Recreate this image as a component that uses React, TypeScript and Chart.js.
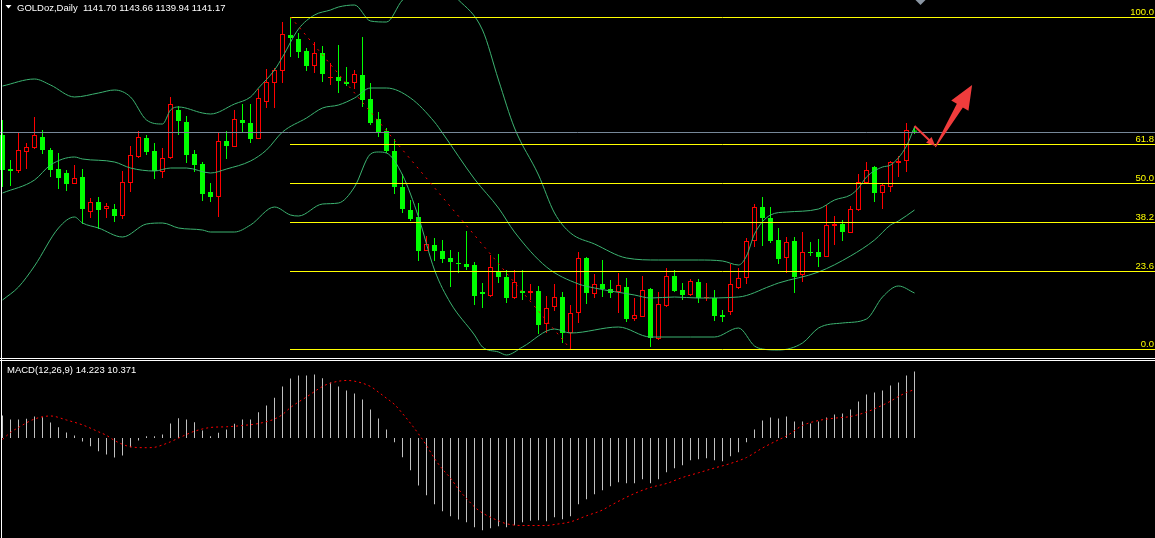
import React, { useEffect, useRef } from "react";
import { Chart, registerables } from "chart.js";

Chart.register(...registerables);

// ---------------- data ----------------
const symbolLabel = "GOLDoz,Daily";
const macdLabel = "MACD(12,26,9)";

const opens = [
  1139.5, 1122.5, 1121.5, 1131.0, 1133.0, 1138.5, 1132.0, 1122.5, 1120.5, 1115.0,
  1118.5, 1101.0, 1106.0, 1102.5, 1102.5, 1099.0, 1115.5, 1128.5, 1138.0, 1131.5,
  1121.0, 1128.0, 1152.0, 1146.0, 1130.0, 1125.0, 1111.0, 1108.5, 1136.5, 1133.5,
  1147.0, 1145.5, 1137.5, 1156.0, 1165.5, 1171.5, 1189.5, 1187.5, 1181.5, 1174.0,
  1180.5, 1168.0, 1168.5, 1166.0, 1165.5, 1169.5, 1157.5, 1147.5, 1141.5, 1131.5,
  1113.5, 1102.0, 1098.5, 1081.5, 1084.5, 1081.5, 1078.0, 1075.5, 1075.0, 1074.5,
  1061.0, 1059.0, 1071.5, 1068.5, 1058.0, 1061.5, 1060.5, 1061.5, 1045.0, 1053.5,
  1058.5, 1040.5, 1050.5, 1078.0, 1060.0, 1065.0, 1062.5, 1061.0, 1063.5, 1047.5,
  1048.5, 1062.5, 1037.5, 1054.0, 1069.0, 1062.0, 1059.5, 1066.0, 1058.0, 1058.0,
  1049.5, 1051.0, 1063.0, 1068.0, 1086.5, 1103.5, 1098.0, 1087.0, 1078.0, 1086.5,
  1069.5, 1081.0, 1081.0, 1078.5, 1094.0, 1095.0, 1090.5, 1102.0, 1115.5, 1123.5,
  1110.5, 1113.5, 1125.5, 1126.5, 1141.7,
];
const highs = [
  1147.0, 1127.0, 1140.5, 1135.5, 1148.5, 1142.0, 1133.0, 1130.5, 1122.0, 1124.5,
  1122.5, 1108.0, 1108.5, 1105.5, 1105.0, 1121.5, 1134.0, 1141.5, 1139.5, 1135.5,
  1133.0, 1158.5, 1154.0, 1149.0, 1132.0, 1126.0, 1115.5, 1141.0, 1141.5, 1152.0,
  1155.0, 1155.0, 1162.5, 1172.5, 1173.0, 1196.0, 1198.5, 1190.5, 1183.0, 1186.0,
  1184.0, 1175.5, 1184.5, 1173.5, 1172.0, 1188.5, 1165.5, 1151.0, 1143.0, 1137.5,
  1120.0, 1107.0, 1105.5, 1089.0, 1088.0, 1087.0, 1082.0, 1081.0, 1091.5, 1076.0,
  1065.5, 1079.5, 1080.0, 1072.0, 1072.0, 1072.0, 1065.0, 1064.0, 1059.0, 1065.0,
  1061.0, 1054.5, 1081.0, 1078.5, 1070.0, 1077.0, 1067.0, 1070.5, 1068.0, 1058.0,
  1069.0, 1063.0, 1061.0, 1073.0, 1072.0, 1065.5, 1067.5, 1067.5, 1065.5, 1062.0,
  1052.0, 1075.0, 1073.0, 1088.0, 1105.0, 1108.5, 1103.5, 1093.0, 1088.5, 1088.5,
  1091.0, 1086.0, 1087.5, 1104.5, 1099.0, 1097.0, 1104.0, 1120.0, 1126.0, 1124.0,
  1115.5, 1126.5, 1129.0, 1145.5, 1143.66,
];
const lows = [
  1113.5, 1114.0, 1120.5, 1122.5, 1132.5, 1130.0, 1118.5, 1112.5, 1111.5, 1115.0,
  1095.0, 1098.0, 1092.5, 1098.0, 1096.0, 1097.5, 1111.0, 1128.0, 1129.5, 1117.5,
  1118.0, 1127.5, 1139.5, 1125.5, 1121.0, 1106.5, 1106.0, 1098.5, 1127.5, 1133.5,
  1141.0, 1135.5, 1137.5, 1153.0, 1153.0, 1165.5, 1178.5, 1178.0, 1171.5, 1170.5,
  1166.0, 1164.5, 1160.5, 1164.0, 1162.5, 1153.5, 1144.5, 1138.5, 1130.5, 1110.0,
  1100.5, 1096.5, 1076.5, 1081.5, 1076.5, 1075.5, 1063.5, 1070.5, 1072.0, 1054.5,
  1053.0, 1058.5, 1065.5, 1055.5, 1057.5, 1057.0, 1057.0, 1040.0, 1040.5, 1051.5,
  1035.5, 1032.5, 1045.5, 1055.0, 1058.0, 1058.5, 1058.0, 1050.5, 1046.0, 1046.5,
  1048.5, 1033.5, 1037.0, 1053.5, 1061.0, 1057.0, 1059.0, 1055.5, 1056.5, 1046.5,
  1046.0, 1049.5, 1062.5, 1065.0, 1083.5, 1084.0, 1085.5, 1075.0, 1070.5, 1060.5,
  1066.0, 1079.0, 1073.5, 1078.5, 1084.5, 1086.5, 1090.5, 1101.5, 1115.5, 1106.0,
  1102.5, 1111.0, 1118.5, 1121.0, 1139.94,
];
const closes = [
  1122.0, 1121.5, 1132.0, 1133.5, 1139.5, 1132.0, 1122.0, 1118.0, 1115.0, 1118.0,
  1102.5, 1106.0, 1102.0, 1104.0, 1099.0, 1116.0, 1129.5, 1138.5, 1131.0, 1121.5,
  1128.0, 1155.0, 1146.5, 1129.5, 1124.5, 1110.0, 1108.5, 1136.5, 1134.0, 1147.5,
  1145.5, 1137.5, 1158.0, 1166.0, 1172.0, 1190.0, 1188.0, 1181.0, 1174.0, 1180.5,
  1170.0, 1168.5, 1166.5, 1165.0, 1170.0, 1157.0, 1145.5, 1141.0, 1131.5, 1113.5,
  1102.5, 1097.5, 1081.5, 1085.0, 1081.5, 1077.5, 1076.0, 1075.0, 1073.5, 1059.0,
  1060.0, 1073.5, 1068.5, 1058.0, 1066.0, 1060.5, 1061.5, 1044.5, 1053.0, 1058.5,
  1040.5, 1050.5, 1078.0, 1060.5, 1065.0, 1062.5, 1060.5, 1064.5, 1047.5, 1049.5,
  1062.0, 1038.0, 1055.0, 1069.0, 1061.5, 1059.5, 1066.5, 1058.0, 1058.5, 1049.0,
  1048.5, 1065.0, 1068.0, 1086.5, 1103.5, 1098.0, 1086.5, 1077.5, 1086.0, 1068.5,
  1081.0, 1080.5, 1078.5, 1094.5, 1095.0, 1091.0, 1102.5, 1116.0, 1122.0, 1110.5,
  1114.5, 1126.0, 1126.5, 1142.0, 1141.17,
];

// Bollinger bands, read as [bar index, price]
const upperBand = [
  [0, 1164.0], [4, 1167.5], [6, 1164.5], [9, 1158.5], [12, 1160.5], [14, 1162.0], [16, 1158.5],
  [18, 1147.0], [20, 1145.0], [21, 1152.0], [22, 1153.5], [25, 1150.5], [26, 1150.0], [29, 1155.0],
  [31, 1158.5], [32, 1163.0], [34, 1172.0], [35, 1178.5], [37, 1192.5], [39, 1199.5], [41, 1202.0],
  [42, 1203.5], [44, 1204.5], [46, 1196.5], [48, 1196.0], [50, 1207.0], [53, 1214.0], [55, 1213.0],
  [57, 1207.0], [60, 1192.0], [62, 1167.0], [64, 1143.0], [67, 1119.5], [69, 1100.5], [71, 1090.5],
  [74, 1085.0], [78, 1078.0], [82, 1077.0], [87, 1077.0], [90, 1076.5], [92, 1074.5], [93, 1079.0],
  [94, 1090.0], [96, 1099.5], [98, 1101.0], [102, 1102.5], [104, 1107.0], [106, 1109.5], [107, 1113.0],
  [108, 1118.5], [110, 1123.5], [111, 1124.5], [113, 1134.0], [114, 1143.5],
];
const middleBand = [
  [0, 1110.5], [4, 1117.0], [6, 1124.5], [9, 1128.5], [10, 1127.5], [14, 1126.0], [16, 1123.0],
  [19, 1121.5], [21, 1123.0], [23, 1123.0], [26, 1120.5], [28, 1122.5], [31, 1126.5], [33, 1132.0],
  [35, 1141.0], [38, 1148.0], [40, 1153.0], [42, 1154.5], [44, 1158.0], [46, 1163.0], [48, 1163.0],
  [51, 1158.0], [54, 1146.0], [55, 1140.5], [59, 1117.5], [62, 1103.0], [64, 1091.0], [68, 1073.5],
  [72, 1065.0], [74, 1063.0], [79, 1059.5], [81, 1058.0], [84, 1058.5], [87, 1058.0], [92, 1058.5],
  [96, 1064.0], [97, 1065.5], [102, 1071.0], [106, 1079.0], [109, 1087.0], [111, 1094.5], [112, 1096.5],
  [114, 1102.0],
];
const lowerBand = [
  [0, 1057.0], [2, 1063.5], [4, 1074.0], [7, 1093.0], [9, 1098.5], [10, 1095.5], [12, 1093.0],
  [15, 1088.5], [18, 1095.0], [20, 1095.5], [22, 1093.0], [25, 1092.0], [26, 1091.0], [29, 1091.0],
  [31, 1094.5], [34, 1103.5], [36, 1099.5], [37, 1099.0], [40, 1105.0], [42, 1105.5], [44, 1113.5],
  [46, 1130.0], [47, 1131.0], [48, 1130.5], [50, 1119.5], [52, 1098.5], [54, 1072.0], [56, 1055.5],
  [59, 1039.5], [60, 1033.5], [62, 1031.0], [63, 1029.5], [65, 1033.5], [69, 1042.5], [71, 1040.5],
  [77, 1043.5], [81, 1038.5], [86, 1038.5], [89, 1038.5], [92, 1043.0], [94, 1034.0], [95, 1032.5],
  [97, 1032.0], [100, 1035.5], [102, 1043.0], [105, 1045.5], [108, 1047.5], [110, 1058.5], [112, 1064.0],
  [114, 1060.5],
];

const macdHist = [
  4.81, 3.96, 3.96, 4.11, 4.6, 4.45, 3.32, 2.31, 1.18, 0.53,
  -0.75, -1.75, -2.82, -3.53, -4.17, -3.74, -1.97, -0.53, 0.39, 0.39,
  0.75, 3.1, 4.24, 3.96, 3.38, 1.6, 0.39, 1.11, 1.82, 3.04,
  3.96, 3.96, 5.52, 6.95, 8.6, 11.02, 12.73, 13.37, 13.37, 13.58,
  12.79, 11.87, 11.02, 10.16, 9.52, 8.24, 6.1, 4.17, 1.82, -0.9,
  -4.11, -6.89, -10.16, -12.24, -14.16, -15.66, -16.73, -17.43, -18.01, -19.08,
  -19.72, -19.29, -18.87, -19.08, -18.65, -18.01, -17.71, -17.58, -17.8, -16.94,
  -17.37, -16.73, -14.16, -13.09, -12.02, -11.17, -10.31, -9.45, -9.67, -9.67,
  -8.81, -9.67, -8.81, -7.32, -6.46, -5.82, -4.75, -4.53, -4.32, -4.75,
  -4.96, -3.89, -3.04, -0.9, 1.82, 3.74, 4.38, 4.17, 4.6, 3.53,
  3.53, 3.1, 3.53, 4.38, 5.03, 5.24, 6.1, 7.81, 9.3, 9.73,
  10.16, 11.23, 11.87, 13.37, 14.223,
];
const macdSignal = [
  [0, -0.32], [1, 1.18], [2, 2.25], [4, 4.06], [6, 4.71], [8, 3.85], [10, 2.8], [12, 1.33], [13, 0.56],
  [14, -0.53], [15, -1.35], [16, -1.88], [18, -2.07], [19, -1.99], [20, -1.48], [21, -0.81], [22, -0.02],
  [23, 0.75], [24, 1.45], [26, 2.25], [28, 2.4], [30, 2.67], [32, 3.1], [34, 4.06], [35, 5.03], [36, 6.52],
  [37, 7.7], [38, 8.77], [40, 11.02], [41, 11.74], [43, 12.3], [44, 12.15], [46, 11.02], [47, 9.8],
  [48, 8.51], [49, 7.17], [50, 5.24], [51, 3.14], [52, 0.88], [53, -1.6], [54, -4.39], [55, -6.67],
  [56, -8.58], [57, -10.97], [58, -12.94], [59, -14.74], [60, -16.04], [62, -17.71], [63, -18.34],
  [65, -18.72], [68, -18.72], [69, -18.5], [71, -17.93], [73, -16.64], [75, -15.4], [76, -14.44],
  [79, -11.87], [81, -10.59], [83, -9.73], [85, -8.45], [87, -7.44], [89, -6.42], [91, -5.45],
  [93, -4.17], [95, -2.14], [97, -0.39], [98, 0.43], [100, 2.67], [102, 3.74], [104, 4.24], [106, 4.6],
  [108, 5.56], [110, 7.02], [111, 7.87], [112, 8.88], [113, 9.73], [114, 10.371],
];

const fibLevels = [0, 23.6, 38.2, 50, 61.8, 100];
const fibHighIndex = 36;
const fibLowIndex = 71;

// annotation arrows in [bar index, price]
const arrowThin = [[114, 1144], [116.6, 1134]];
const arrowBold = [[116.6, 1133.5], [121.2, 1164.5]];
const shiftMarkerIndex = 114.75;

// ---------------- config ----------------
const X_RANGE = { min: -0.3125, max: 144.0625 };
const PRICE_RANGE = { min: 1028, max: 1207 };
const MACD_RANGE = { min: -21.39, max: 16.47 };

const BULL = "#ff0000";
const BEAR = "#00ff00";
const BAND = "#3cb371";
const FIB = "#ffff00";
const BID = "#778899";
const HIST = "#c0c0c0";
const SIGNAL = "#ff0000";
const ARROW = "#f03c3c";
const TEXT = "#ffffff";
const FONT = '9.5px "Liberation Sans", Arial, sans-serif';

function fillArrowHead(ctx: any, x0: number, y0: number, x1: number, y1: number, len: number, half: number) {
  const dx = x1 - x0, dy = y1 - y0;
  const L = Math.hypot(dx, dy);
  const ux = dx / L, uy = dy / L;
  const nx = -uy, ny = ux;
  const bx = x1 - ux * len, by = y1 - uy * len;
  ctx.beginPath();
  ctx.moveTo(x1, y1);
  ctx.lineTo(bx + nx * half, by + ny * half);
  ctx.lineTo(bx - nx * half, by - ny * half);
  ctx.closePath();
  ctx.fill();
}

const mainOverlay = {
  id: "mainOverlay",
  afterDatasetsDraw(chart: any) {
    const { ctx, chartArea } = chart;
    const xs = chart.scales.x, ys = chart.scales.y;
    const row = (v: number) => Math.round(ys.getPixelForValue(v)) + 0.5;
    ctx.save();
    ctx.beginPath();
    ctx.rect(chartArea.left, chartArea.top, chartArea.right - chartArea.left, chartArea.bottom - chartArea.top);
    ctx.clip();
    ctx.lineWidth = 1;

    // bid line
    const bidY = row(closes[closes.length - 1]);
    ctx.strokeStyle = BID;
    ctx.beginPath();
    ctx.moveTo(chartArea.left, bidY);
    ctx.lineTo(chartArea.right, bidY);
    ctx.stroke();

    // fibonacci
    const hi = highs[fibHighIndex];
    const lo = lows[fibLowIndex];
    const fx = Math.floor(xs.getPixelForValue(fibHighIndex));
    ctx.font = FONT;
    ctx.textAlign = "right";
    ctx.textBaseline = "alphabetic";
    fibLevels.forEach((l) => {
      const y = row(lo + ((hi - lo) * l) / 100);
      ctx.strokeStyle = FIB;
      ctx.beginPath();
      ctx.moveTo(fx, y);
      ctx.lineTo(chartArea.right, y);
      ctx.stroke();
      ctx.fillStyle = FIB;
      ctx.fillText(l.toFixed(1), chartArea.right - 1, y - 2.5);
    });

    // fibonacci trend line (dotted)
    ctx.setLineDash([2, 5]);
    ctx.strokeStyle = "#ff0000";
    ctx.beginPath();
    ctx.moveTo(xs.getPixelForValue(fibHighIndex), ys.getPixelForValue(hi));
    ctx.lineTo(xs.getPixelForValue(fibLowIndex), ys.getPixelForValue(lo));
    ctx.stroke();
    ctx.setLineDash([]);

    // thin arrow
    const t0x = xs.getPixelForValue(arrowThin[0][0]), t0y = ys.getPixelForValue(arrowThin[0][1]);
    const t1x = xs.getPixelForValue(arrowThin[1][0]), t1y = ys.getPixelForValue(arrowThin[1][1]);
    ctx.strokeStyle = ARROW;
    ctx.fillStyle = ARROW;
    ctx.lineWidth = 2;
    ctx.beginPath();
    ctx.moveTo(t0x, t0y);
    ctx.lineTo(t1x - (t1x - t0x) * 0.25, t1y - (t1y - t0y) * 0.25);
    ctx.stroke();
    fillArrowHead(ctx, t0x, t0y, t1x, t1y, 9, 4);

    // bold arrow
    const b0x = xs.getPixelForValue(arrowBold[0][0]), b0y = ys.getPixelForValue(arrowBold[0][1]);
    const b1x = xs.getPixelForValue(arrowBold[1][0]), b1y = ys.getPixelForValue(arrowBold[1][1]);
    const dx = b1x - b0x, dy = b1y - b0y;
    const L = Math.hypot(dx, dy);
    const ux = dx / L, uy = dy / L, nx = -uy, ny = ux;
    const headLen = 24, headHalf = 10, shaftHalf = 3.5, tailHalf = 0.6;
    const bx = b1x - ux * headLen, by = b1y - uy * headLen;
    ctx.beginPath();
    ctx.moveTo(b0x + nx * tailHalf, b0y + ny * tailHalf);
    ctx.lineTo(bx + nx * shaftHalf, by + ny * shaftHalf);
    ctx.lineTo(bx + nx * headHalf, by + ny * headHalf);
    ctx.lineTo(b1x, b1y);
    ctx.lineTo(bx - nx * headHalf, by - ny * headHalf);
    ctx.lineTo(bx - nx * shaftHalf, by - ny * shaftHalf);
    ctx.lineTo(b0x - nx * tailHalf, b0y - ny * tailHalf);
    ctx.closePath();
    ctx.fill();
    ctx.restore();
  },
  afterDraw(chart: any) {
    const { ctx, chartArea } = chart;
    const xs = chart.scales.x;
    ctx.save();
    // panel frame
    ctx.fillStyle = "#ffffff";
    ctx.fillRect(1, 0, 1, chart.height);
    ctx.fillRect(0, chartArea.bottom, chart.width, 1);
    ctx.fillRect(0, chartArea.bottom + 2, chart.width, 1);
    // chart shift marker
    const sx = xs.getPixelForValue(shiftMarkerIndex);
    ctx.fillStyle = "#8a96a3";
    ctx.beginPath();
    ctx.moveTo(sx - 5, 0);
    ctx.lineTo(sx + 5, 0);
    ctx.lineTo(sx, 5);
    ctx.closePath();
    ctx.fill();
    // header
    ctx.fillStyle = TEXT;
    ctx.beginPath();
    ctx.moveTo(5.5, 5);
    ctx.lineTo(11.5, 5);
    ctx.lineTo(8.5, 8.5);
    ctx.closePath();
    ctx.fill();
    ctx.font = FONT;
    ctx.textAlign = "left";
    ctx.textBaseline = "alphabetic";
    ctx.fillText(symbolLabel, 17, 11);
    const n = closes.length - 1;
    const ohlc = [opens[n], highs[n], lows[n], closes[n]].map((v) => v.toFixed(2)).join(" ");
    ctx.fillText(ohlc, 83, 11);
    ctx.restore();
  },
};

const macdOverlay = {
  id: "macdOverlay",
  afterDraw(chart: any) {
    const { ctx } = chart;
    ctx.save();
    ctx.fillStyle = "#ffffff";
    ctx.fillRect(1, 0, 1, chart.height);
    ctx.fillStyle = TEXT;
    ctx.font = FONT;
    ctx.textAlign = "left";
    ctx.textBaseline = "alphabetic";
    const txt = `${macdLabel} ${macdHist[macdHist.length - 1].toFixed(3)} ${macdSignal[macdSignal.length - 1][1].toFixed(3)}`;
    ctx.fillText(txt, 7, 12);
    ctx.restore();
  },
};

const baseOptions = (yRange: { min: number; max: number }, padding: any) => ({
  responsive: false,
  animation: false,
  devicePixelRatio: 1,
  events: [],
  layout: { padding, autoPadding: false },
  plugins: { legend: { display: false }, tooltip: { enabled: false }, title: { display: false } },
  scales: {
    x: { type: "linear", min: X_RANGE.min, max: X_RANGE.max, display: false, offset: false, grid: { offset: false } },
    y: { type: "linear", min: yRange.min, max: yRange.max, display: false },
  },
});

const bandDataset = (pts: number[][]) => ({
  type: "line",
  data: pts.map(([x, y]) => ({ x, y })),
  borderColor: BAND,
  borderWidth: 1,
  pointRadius: 0,
  pointHoverRadius: 0,
  fill: false,
  cubicInterpolationMode: "monotone",
  order: 1,
});

export default function App() {
  const mainRef = useRef<HTMLCanvasElement>(null);
  const macdRef = useRef<HTMLCanvasElement>(null);

  useEffect(() => {
    const idx = opens.map((_, i) => i);
    const bull = idx.map((i) => closes[i] > opens[i]);

    const main = new Chart(mainRef.current as HTMLCanvasElement, {
      type: "bar",
      data: {
        datasets: [
          {
            type: "bar",
            data: idx.map((i) => ({ x: i, y: [lows[i], highs[i]] })),
            backgroundColor: idx.map((i) => (bull[i] ? BULL : BEAR)),
            borderWidth: 0,
            maxBarThickness: 1,
            grouped: false,
            inflateAmount: 0,
            order: 3,
          },
          {
            type: "bar",
            data: idx.map((i) => ({ x: i, y: [opens[i], closes[i]] })),
            backgroundColor: idx.map((i) => (bull[i] ? "#000000" : BEAR)),
            borderColor: idx.map((i) => (bull[i] ? BULL : BEAR)),
            borderWidth: idx.map((i) => (bull[i] ? 1 : 0)),
            borderSkipped: false,
            maxBarThickness: 5,
            grouped: false,
            inflateAmount: 0,
            order: 2,
          },
          bandDataset(upperBand),
          bandDataset(middleBand),
          bandDataset(lowerBand),
        ],
      } as any,
      options: baseOptions(PRICE_RANGE, { left: 0, right: 0, top: 0, bottom: 3 }) as any,
      plugins: [mainOverlay],
    });

    const macd = new Chart(macdRef.current as HTMLCanvasElement, {
      type: "bar",
      data: {
        datasets: [
          {
            type: "bar",
            data: macdHist.map((v, i) => ({ x: i, y: v })),
            backgroundColor: HIST,
            borderWidth: 0,
            maxBarThickness: 1,
            grouped: false,
            inflateAmount: 0,
            order: 2,
          },
          {
            type: "line",
            data: macdSignal.map(([x, y]) => ({ x, y })),
            borderColor: SIGNAL,
            borderWidth: 1,
            borderDash: [2, 3],
            pointRadius: 0,
            pointHoverRadius: 0,
            fill: false,
            cubicInterpolationMode: "monotone",
            order: 1,
          },
        ],
      } as any,
      options: baseOptions(MACD_RANGE, 0) as any,
      plugins: [macdOverlay],
    });

    return () => {
      main.destroy();
      macd.destroy();
    };
  }, []);

  return (
    <div style={{ position: "fixed", left: 0, top: 0, width: 1155, height: 538, background: "#000", overflow: "hidden" }}>
      <canvas
        ref={mainRef}
        width={1155}
        height={361}
        style={{ position: "absolute", left: 0, top: 0, width: 1155, height: 361, display: "block" }}
      />
      <canvas
        ref={macdRef}
        width={1155}
        height={177}
        style={{ position: "absolute", left: 0, top: 361, width: 1155, height: 177, display: "block" }}
      />
    </div>
  );
}
